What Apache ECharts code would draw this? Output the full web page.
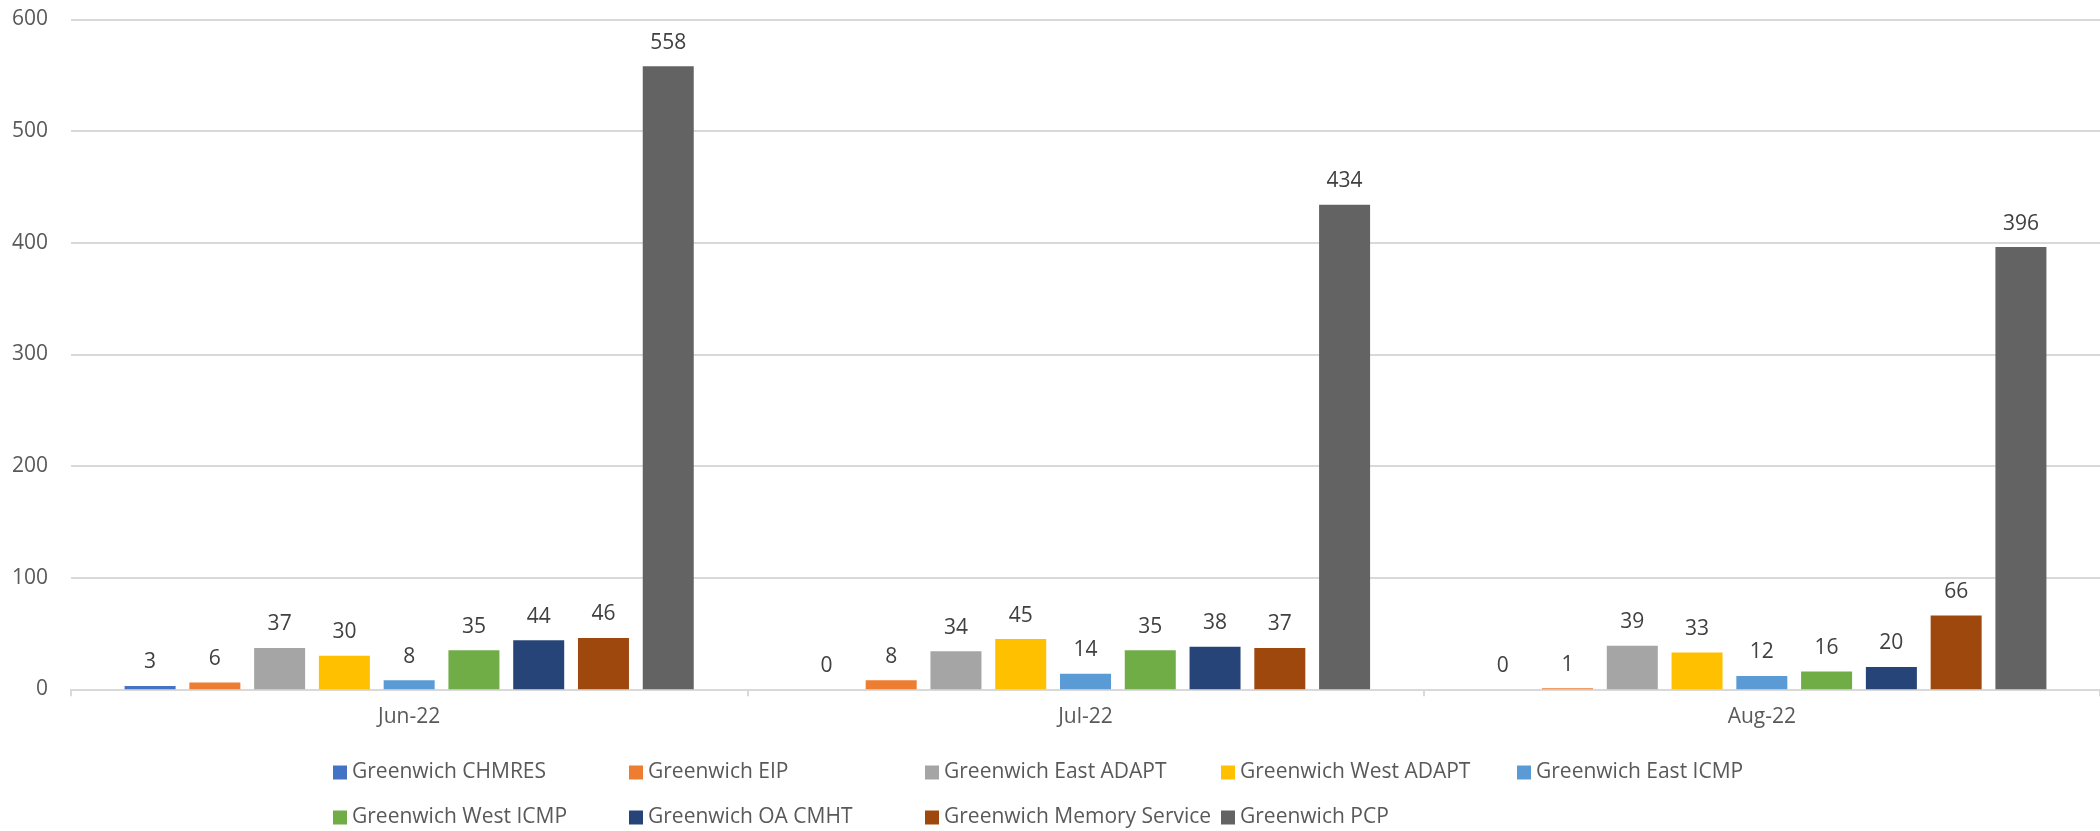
<!DOCTYPE html>
<html>
<head>
<meta charset="utf-8">
<script src="https://cdn.jsdelivr.net/npm/echarts@6/dist/echarts.min.js"></script>
<style>
  html, body { margin: 0; padding: 0; background: #ffffff; }
  #chart { width: 2100px; height: 831px; }
</style>
</head>
<body>
<div id="chart"></div>
<script>
// Monthly counts per Greenwich service
const months = ['Jun-22', 'Jul-22', 'Aug-22'];

const chmres       = [3, 0, 0];
const eip          = [6, 8, 1];
const eastAdapt    = [37, 34, 39];
const westAdapt    = [30, 45, 33];
const eastIcmp     = [8, 14, 12];
const westIcmp     = [35, 35, 16];
const oaCmht       = [44, 38, 20];
const memoryService = [46, 37, 66];
const pcp          = [558, 434, 396];

const yTicks = [0, 100, 200, 300, 400, 500, 600];

const seriesDefs = [
  { name: 'Greenwich CHMRES', data: chmres, color: '#4472C4' },
  { name: 'Greenwich EIP', data: eip, color: '#ED7D31' },
  { name: 'Greenwich East ADAPT', data: eastAdapt, color: '#A5A5A5' },
  { name: 'Greenwich West ADAPT', data: westAdapt, color: '#FFC000' },
  { name: 'Greenwich East ICMP', data: eastIcmp, color: '#5B9BD5' },
  { name: 'Greenwich West ICMP', data: westIcmp, color: '#70AD47' },
  { name: 'Greenwich OA CMHT', data: oaCmht, color: '#264478' },
  { name: 'Greenwich Memory Service', data: memoryService, color: '#9E480E' },
  { name: 'Greenwich PCP', data: pcp, color: '#636363' }
];

const FONT = '"Open Sans", "Noto Sans", sans-serif';

const chart = echarts.init(document.getElementById('chart'), null, { renderer: 'canvas' });

chart.setOption({
  animation: false,
  backgroundColor: '#ffffff',
  textStyle: { fontFamily: FONT },
  grid: { left: 71, right: -6, top: 19.3, bottom: 141.7, containLabel: false },
  legend: {
    left: 333,
    top: 750,
    width: 1490,
    padding: 0,
    itemGap: 0,
    itemWidth: 14,
    itemHeight: 14,
    icon: 'rect',
    textStyle: {
      color: '#595959',
      fontSize: 21,
      fontFamily: FONT,
      width: 277,
      lineHeight: 45,
      height: 45,
      overflow: 'truncate'
    },
    data: seriesDefs.map(s => s.name)
  },
  xAxis: {
    type: 'category',
    data: months,
    axisLine: { show: true, lineStyle: { color: '#D9D9D9', width: 2 } },
    axisTick: { show: true, length: 7, lineStyle: { color: '#D9D9D9', width: 2 } },
    axisLabel: { color: '#595959', fontSize: 21, fontFamily: FONT, margin: 17 },
    splitLine: { show: false }
  },
  yAxis: {
    type: 'value',
    min: yTicks[0],
    max: yTicks[yTicks.length - 1],
    interval: yTicks[1] - yTicks[0],
    axisLine: { show: false },
    axisTick: { show: false },
    axisLabel: { color: '#595959', fontSize: 21, fontFamily: FONT, margin: 23 },
    splitLine: { show: true, lineStyle: { color: '#D9D9D9', width: 2 } }
  },
  series: seriesDefs.map(s => ({
    name: s.name,
    type: 'bar',
    data: s.data,
    barWidth: 51,
    barGap: '27%',
    itemStyle: { color: s.color },
    label: {
      show: true,
      position: 'top',
      distance: 13,
      color: '#404040',
      fontSize: 21,
      fontFamily: FONT
    }
  }))
});
</script>
</body>
</html>
